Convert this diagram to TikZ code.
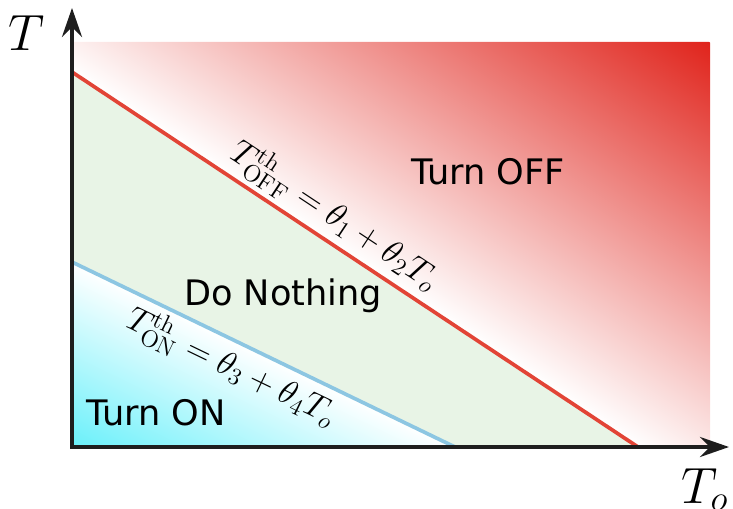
\RequirePackage{fix-cm}
\documentclass[tikz,border=0pt]{standalone}
\usepackage{fontspec}
\usetikzlibrary{arrows.meta}
\newfontfamily\regionfont{DejaVu Sans}
\definecolor{offred}{RGB}{224,36,28}
\definecolor{offline}{RGB}{226,68,54}
\definecolor{online}{RGB}{140,198,226}
\definecolor{oncyan}{RGB}{105,240,250}
\definecolor{idlegreen}{RGB}{232,244,230}
\definecolor{axisgray}{RGB}{30,30,30}

\begin{document}
\begin{tikzpicture}[
    x=0.02cm, y=0.02cm,
    region/.style={font=\regionfont\fontsize{20}{24}\selectfont, text=black},
    thresh/.style={line width=2.1pt},
    eqn/.style={font=\fontsize{19.5}{23}\selectfont, text=black, sloped, inner sep=2.5pt},
    axis/.style={line width=2.4pt, draw=axisgray,
        {Stealth[length=0.58cm, width=0.4cm, inset=0.2cm]}-{Stealth[length=0.58cm, width=0.4cm, inset=0.2cm]}},
    axlabel/.style={font=\fontsize{29}{34}\selectfont, inner sep=0pt, anchor=base west}
]
\useasboundingbox (0,0) rectangle (733,508);
\coordinate (origin) at (72,61);
\coordinate (offtop) at (72,436);
\coordinate (offbot) at (638,61);
\coordinate (ontop) at (72,246);
\coordinate (onbot) at (455,61);
\coordinate (ytip) at (72,500);
\coordinate (xtip) at (729,61);

% Turn OFF region, white at the line to red in the corner
\begin{scope}
  \clip (offtop) -- (72,466) -- (710,466) -- (710,61) -- (offbot) -- cycle;
  \begin{scope}[transform canvas={rotate around={-33.53:(72,436)}}]
    \shade[bottom color=white, top color=offred] (-128,436) rectangle (1072,813);
  \end{scope}
\end{scope}

% Do Nothing band
\fill[idlegreen] (offtop) -- (offbot) -- (onbot) -- (ontop) -- cycle;

% Turn ON region, white at the line to cyan in the corner
\begin{scope}
  \clip (ontop) -- (onbot) -- (origin) -- cycle;
  \begin{scope}[transform canvas={rotate around={-25.78:(72,246)}}]
    \shade[bottom color=oncyan, top color=white] (-128,79) rectangle (772,246);
  \end{scope}
\end{scope}

% thresholds
\draw[thresh, offline] (offtop) -- node[eqn, above, pos=0.44] (offeq)
    {$T^{\mathrm{th}}_{\mathrm{OFF}}=\theta_1+\theta_2T_o$} (offbot);
\draw[thresh, online] (ontop) -- node[eqn, below, pos=0.445] (oneq)
    {$T^{\mathrm{th}}_{\mathrm{ON}}=\theta_3+\theta_4T_o$} (onbot);

\node[region] (offtxt) at (488,336) {Turn OFF};
\node[region] (idletxt) at (283,212) {Do Nothing};
\node[region] (ontxt) at (156,95) {Turn ON};

% axes
\draw[axis] (ytip) -- (origin) -- (xtip);
\node[axlabel] (ylab) at (8,458) {$T$};
\node[axlabel] (xlab) at (681,5) {$T_o$};
\end{tikzpicture}
\end{document}
